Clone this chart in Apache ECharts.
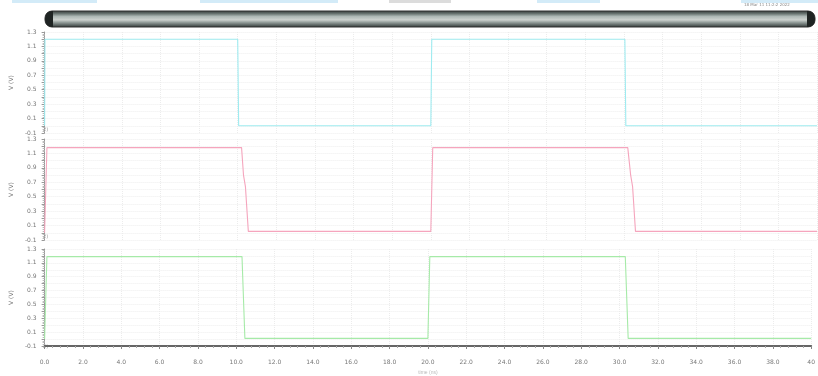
<!DOCTYPE html>
<html><head><meta charset="utf-8">
<script src="https://cdn.jsdelivr.net/npm/echarts@6/dist/echarts.min.js"></script>
<style>html,body{margin:0;padding:0;background:#fff}#c{width:818px;height:376px}</style>
</head><body><div id="c"></div>
<script>
// time axis (ns)
var xTicks = [0,2,4,6,8,10,12,14,16,18,20,22,24,26,28,30,32,34,36,38,40];
var yTickLabels = [-0.1,0.1,0.3,0.5,0.7,0.9,1.1,1.3];
// signal 1 (cyan)
var cyanT = [0, 0.02, 10.0, 10.05, 20.0, 20.05, 30.05, 30.1, 40];
var cyanV = [0, 1.2, 1.2, 0, 0, 1.2, 1.2, 0, 0];
// signal 2 (pink)
var pinkT = [0, 0.05, 0.12, 10.2, 10.3, 10.4, 10.55, 20.0, 20.1, 30.2, 30.35, 30.45, 30.6, 40];
var pinkV = [0, 0, 1.18, 1.18, 0.8, 0.64, 0.02, 0.02, 1.18, 1.18, 0.8, 0.64, 0.02, 0.02];
// signal 3 (green)
var greenT = [0, 0.05, 0.12, 10.3, 10.45, 20.0, 20.1, 30.3, 30.45, 40];
var greenV = [0, 0, 1.19, 1.19, 0.01, 0.01, 1.19, 1.19, 0.01, 0.01];

function pairs(t, v){ return t.map(function(x,i){return [x, v[i]];}); }

var tops = [32, 139, 249];
var h = 101;
var grids = tops.map(function(t){ return {left:40, right:1, top:t, height:h, containLabel:false}; });

var xAxes = tops.map(function(t, i){
  var last = i === 2;
  return {
    type:'value', gridIndex:i, min:0, max:40, interval:2,
    axisLine:{show:last, onZero:false, lineStyle:{color:'#666', width:2}},
    axisTick:{show:last, length:3, lineStyle:{color:'#888'}},
    minorTick:{show:last, splitNumber:5, length:2, lineStyle:{color:'#aaa'}},
    axisLabel:{show:last, fontSize:6, color:'#777', margin:13, fontFamily:'DejaVu Sans',
      formatter:function(v){ return v === 40 ? '40' : v.toFixed(1); }},
    splitLine:{show:true, lineStyle:{color:'#ececec', type:'dotted', width:1}},
    name: last ? 'time (ns)' : '', nameLocation:'middle', nameGap:24,
    nameTextStyle:{fontSize:5, color:'#bbb'}
  };
});

var yAxes = tops.map(function(t, i){
  return {
    type:'value', gridIndex:i, min:-0.1, max:1.3, interval:0.1,
    name:'V (V)', nameLocation:'middle', nameGap:25, nameRotate:90,
    nameTextStyle:{fontSize:6, color:'#777', fontFamily:'DejaVu Sans'},
    axisLine:{show:true, lineStyle:{color:'#999', width:1}},
    axisTick:{show:true, length:3, lineStyle:{color:'#999'}},
    minorTick:{show:true, splitNumber:4, length:2, lineStyle:{color:'#bbb'}},
    axisLabel:{fontSize:6, color:'#777', margin:8, fontFamily:'DejaVu Sans',
      formatter:function(v){
        var k = Math.round(v*10);
        if (Math.abs(k % 2) !== 1) return '';
        return yTickLabels.indexOf(k/10) >= 0 ? (k/10).toFixed(1) : '';
      }},
    splitLine:{show:true, lineStyle:{color:'#eeeeee', type:'dotted', width:1}}
  };
});

var colors = ['#9eebf0', '#f5a5bd', '#a6eaa8'];
var datas = [pairs(cyanT, cyanV), pairs(pinkT, pinkV), pairs(greenT, greenV)];
var series = datas.map(function(d, i){
  return {type:'line', xAxisIndex:i, yAxisIndex:i, data:d, showSymbol:false, symbol:'none',
    lineStyle:{color:colors[i], width:1.1}, animation:false, silent:true};
});

var graphics = [
  {type:'rect', shape:{x:12,y:0,width:85,height:3}, style:{fill:'#d3ebf8'}},
  {type:'rect', shape:{x:200,y:0,width:138,height:3}, style:{fill:'#d3ebf8'}},
  {type:'rect', shape:{x:389,y:0,width:62,height:3}, style:{fill:'#dcdcdc'}},
  {type:'rect', shape:{x:537,y:0,width:63,height:3}, style:{fill:'#d3ebf8'}},
  {type:'rect', shape:{x:741,y:0,width:77,height:3}, style:{fill:'#d3ebf8'}},
  {type:'text', left:744, top:3, style:{text:'18 Mar 11 11:2:2 2022', fontSize:4, fill:'#888', fontFamily:'DejaVu Sans'}},
  {type:'rect', shape:{x:45,y:11,width:770,height:16,r:7},
    style:{fill:{type:'linear',x:0,y:0,x2:0,y2:1,colorStops:[
      {offset:0,color:'#2e3432'},{offset:0.18,color:'#66716e'},{offset:0.35,color:'#aeb8b5'},
      {offset:0.55,color:'#cdd2cf'},{offset:0.7,color:'#939d9a'},{offset:0.88,color:'#555e5c'},{offset:1,color:'#2a2f2e'}]},
      stroke:'#333', lineWidth:1}},
  {type:'rect', shape:{x:45,y:11,width:8,height:16,r:[7,0,0,7]}, style:{fill:'#1f2423'}},
  {type:'rect', shape:{x:807,y:11,width:8,height:16,r:[0,7,7,0]}, style:{fill:'#1f2423'}}
];
tops.forEach(function(t){
  graphics.push({type:'text', left:43, top:t+h-6, style:{text:'2)', fontSize:5, fill:'#999', fontFamily:'DejaVu Sans'}});
});

var chart = echarts.init(document.getElementById('c'), null, {renderer:'canvas'});
chart.setOption({
  backgroundColor:'#ffffff',
  animation:false,
  grid:grids, xAxis:xAxes, yAxis:yAxes, series:series, graphic:graphics
});
</script></body></html>
